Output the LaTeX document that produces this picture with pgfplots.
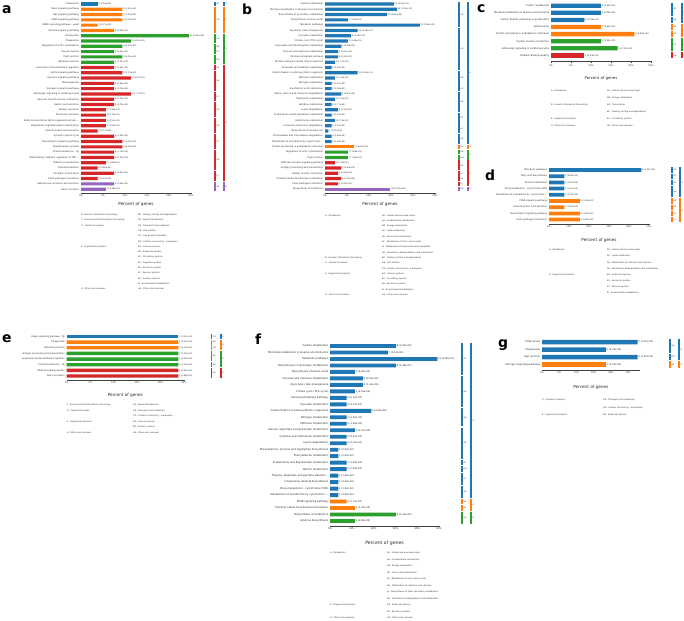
\documentclass[border=0pt]{standalone}
\usepackage{fontspec}
\setmainfont{DejaVu Sans}
\usepackage{pgfplots}
\pgfplotsset{compat=1.18}
\usetikzlibrary{calc}
\definecolor{cB}{HTML}{1F77B4}
\definecolor{cO}{HTML}{FF7F0E}
\definecolor{cG}{HTML}{2CA02C}
\definecolor{cR}{HTML}{D62728}
\definecolor{cP}{HTML}{9467BD}

\newcommand\fLab{\fontsize{2.3}{2.6}\selectfont}
\newcommand\fVal{\fontsize{2.1}{2.4}\selectfont}
\newcommand\fTick{\fontsize{2.3}{2.6}\selectfont}
\newcommand\fXl{\fontsize{4.2}{5}\selectfont}
\newcommand\fLeg{\fontsize{2.1}{2.5}\selectfont}
\newcommand\fStr{\fontsize{2}{2.3}\selectfont}
\newcommand\etc{\ldots}

\pgfplotsset{
  kegg/.style={
    xbar, scale only axis, clip=false, anchor=north west,
    xmin=0, enlargelimits=false,
    axis x line*=bottom, axis y line*=left,
    x axis line style={-, black!75, line width=0.3pt},
    y axis line style={draw=none},
    ytick style={draw=none},
    xtick style={black!75, line width=0.3pt},
    tick align=outside, major tick length=1.2bp,
    yticklabel style={font=\fLab, inner sep=0.5bp, text=black!85},
    xticklabel style={font=\fTick, inner sep=0.6bp, text=black!85},
    xticklabel={\pgfmathprintnumber{\tick}\%},
    /pgf/number format/assume math mode=true,
    xlabel={Percent of genes},
    xlabel style={font=\fXl, inner sep=0.5bp, text=black!85, yshift=-4bp},
    every axis plot/.append style={draw=none, bar width=0.6, bar shift=0pt},
    nodes near coords, point meta=explicit symbolic,
    nodes near coords align=horizontal,
    nodes near coords style={font=\fVal, anchor=west, inner sep=0.6bp, text=black!85},
  },
}
\tikzset{stl/.style={font=\fStr, anchor=west, inner sep=0.5bp, text=black!80}}

% category strips right of the bars, two levels
\newcommand\stripA[4]{\fill[#1] (axis cs:\xa,#2) rectangle (axis cs:\xb,#3);
  \node[stl] at ($(axis cs:\xb,#2)!0.5!(axis cs:\xb,#3)$) {#4};}
\newcommand\stripB[4]{\fill[#1] (axis cs:\xc,#2) rectangle (axis cs:\xd,#3);
  \node[stl] at ($(axis cs:\xd,#2)!0.5!(axis cs:\xd,#3)$) {#4};}
% legend lines below each panel
\newcommand\lgd[3]{\node[anchor=west, font=\fLeg, inner sep=0pt, text=black!85] at (#1bp,-#2bp) {#3};}
\newcommand\plab[3]{\node[anchor=base west, font=\bfseries\fontsize{14}{14}\selectfont, inner sep=0pt] at (#1bp,-#2bp) {#3};}

\begin{document}
\begin{tikzpicture}
\useasboundingbox (0,0) rectangle (684bp,-621bp);

%% ---------------- a
\def\xa{30.23}\def\xb{30.68}\def\xc{32.27}\def\xd{32.73}
\begin{axis}[kegg, at={(81bp,-0.03bp)}, width=110bp, height=193.1bp,
  xmax=25, xtick={0,5,...,25}, ymin=-36.75, ymax=-0.25, ytick={-1,-2,...,-36},
  yticklabels={Proteasome, Rap1 signaling pathway, Ras signaling pathway, cAMP signaling pathway,
    MAPK signaling pathway - yeast, Calcium signaling pathway, Endocytosis, Phagosome,
    Regulation of actin cytoskeleton, Oocyte meiosis, Tight junction, Adherens junction,
    Leukocyte transendothelial migration, GnRH signaling pathway, Oxytocin signaling pathway,
    Melanogenesis, Glucagon signaling pathway, Adrenergic signaling in cardiomyocytes,
    Vascular smooth muscle contraction, Gastric acid secretion, Salivary secretion,
    Pancreatic secretion, {Endocrine and other factor-regulated calcium \etc},
    Vasopressin-regulated water reabsorption, Collecting duct acid secretion,
    Synaptic vesicle cycle, Neurotrophin signaling pathway, Dopaminergic synapse,
    Phototransduction - fly, {Inflammatory mediator regulation of TRP \etc},
    Olfactory transduction, Phototransduction, Circadian entrainment,
    Plant-pathogen interaction, Aldosterone synthesis and secretion, Renin secretion}]
\addplot[fill=cB] coordinates {(3.77,-1) [2 (1.94e-02)]};
\addplot[fill=cO] coordinates {(9.43,-2) [5 (3.63e-03)] (9.43,-3) [5 (1.29e-02)] (9.43,-4) [5 (3.59e-03)]
  (3.77,-5) [2 (3.37e-02)] (7.55,-6) [4 (4.48e-02)]};
\addplot[fill=cG] coordinates {(24.53,-7) [13 (3.40e-08)] (11.32,-8) [6 (4.83e-04)] (9.43,-9) [5 (3.43e-03)]
  (7.55,-10) [4 (4.35e-03)] (9.43,-11) [5 (4.45e-03)] (7.55,-12) [4 (3.35e-03)]};
\addplot[fill=cR] coordinates {(7.55,-13) [4 (3.38e-02)] (9.43,-14) [5 (2.78e-03)] (11.32,-15) [6 (4.37e-03)]
  (7.55,-16) [4 (2.94e-02)] (7.55,-17) [4 (3.78e-02)] (11.32,-18) [6 (1.77e-03)] (7.55,-19) [4 (2.30e-02)]
  (7.55,-20) [4 (4.78e-02)] (5.66,-21) [3 (3.54e-02)] (5.66,-22) [3 (3.75e-02)] (5.66,-23) [3 (4.51e-02)]
  (5.66,-24) [3 (3.05e-02)] (3.77,-25) [2 (3.13e-02)] (7.55,-26) [4 (3.32e-02)] (9.43,-27) [5 (5.79e-03)]
  (9.43,-28) [5 (8.63e-03)] (7.55,-29) [4 (1.70e-02)] (7.55,-30) [4 (3.35e-02)] (5.66,-31) [3 (1.94e-02)]
  (3.77,-32) [2 (3.88e-02)] (7.55,-33) [4 (3.41e-02)] (3.77,-34) [2 (4.25e-02)]};
\addplot[fill=cP] coordinates {(7.55,-35) [4 (2.54e-02)] (5.66,-36) [3 (3.28e-02)]};
\stripA{cB}{-0.58}{-1.42}{BC} \stripA{cO}{-1.58}{-6.42}{CB} \stripA{cG}{-6.58}{-8.42}{DA}
\stripA{cG}{-8.58}{-9.42}{DB} \stripA{cG}{-9.58}{-10.42}{DC} \stripA{cG}{-10.58}{-12.42}{DD}
\stripA{cR}{-12.58}{-13.42}{EA} \stripA{cR}{-13.58}{-17.42}{EB} \stripA{cR}{-17.58}{-19.42}{EC}
\stripA{cR}{-19.58}{-22.42}{ED} \stripA{cR}{-22.58}{-25.42}{EE} \stripA{cR}{-25.58}{-28.42}{EF}
\stripA{cR}{-28.58}{-32.42}{EG} \stripA{cR}{-32.58}{-34.42}{EI} \stripA{cP}{-34.58}{-36.42}{HA}
\stripB{cB}{-0.58}{-1.42}{B} \stripB{cO}{-1.58}{-6.42}{C} \stripB{cG}{-6.58}{-12.42}{D}
\stripB{cR}{-12.58}{-34.42}{E} \stripB{cP}{-34.58}{-36.42}{H}
\end{axis}
\plab{2}{13}{a}
\lgd{81}{215}{B : Genetic Information Processing}
\lgd{81}{220.3}{C : Environmental Information Processing}
\lgd{81}{225.6}{D : Cellular Processes}
\lgd{81}{246.8}{E : Organismal Systems}
\lgd{81}{289.2}{H : Other and unknown}
\lgd{138}{215}{BC : Folding, sorting and degradation}
\lgd{138}{220.3}{CB : Signal transduction}
\lgd{138}{225.6}{DA : Transport and catabolism}
\lgd{138}{230.9}{DB : Cell motility}
\lgd{138}{236.2}{DC : Cell growth and death}
\lgd{138}{241.5}{DD : Cellular community - eukaryotes}
\lgd{138}{246.8}{EA : Immune system}
\lgd{138}{252.1}{EB : Endocrine system}
\lgd{138}{257.4}{EC : Circulatory system}
\lgd{138}{262.7}{ED : Digestive system}
\lgd{138}{268}{EE : Excretory system}
\lgd{138}{273.3}{EF : Nervous system}
\lgd{138}{278.6}{EG : Sensory system}
\lgd{138}{283.9}{EI : Environmental adaptation}
\lgd{138}{289.2}{HA : Other and unknown}

%% ---------------- b
\def\xa{36.27}\def\xb{36.82}\def\xc{38.73}\def\xd{39.27}
\begin{axis}[kegg, at={(325bp,-0.03bp)}, width=110bp, height=193.1bp,
  xmax=30, xtick={0,6,...,30}, ymin=-36.75, ymax=-0.25, ytick={-1,-2,...,-36},
  yticklabels={Carbon metabolism, Microbial metabolism in diverse environments,
    Biosynthesis of secondary metabolites, Biosynthesis of amino acids, Metabolic pathways,
    Glycolysis / Gluconeogenesis, Pyruvate metabolism, Citrate cycle (TCA cycle),
    Glyoxylate and dicarboxylate metabolism, Fructose and mannose metabolism,
    Pentose phosphate pathway, Pentose and glucuronate interconversions,
    Ascorbate and aldarate metabolism, Carbon fixation in photosynthetic organisms,
    Methane metabolism, Nitrogen metabolism, Arachidonic acid metabolism,
    {Valine, leucine and isoleucine degradation}, Tryptophan metabolism, Histidine metabolism,
    Lysine degradation, D-Glutamine and D-glutamate metabolism, Glutathione metabolism,
    Limonene and pinene degradation, Biosynthesis of ansamycins,
    Chloroalkane and chloroalkene degradation, {Metabolism of xenobiotics by cytochrome \etc},
    Protein processing in endoplasmic reticulum, Regulation of actin cytoskeleton,
    Tight junction, NOD-like receptor signaling pathway, Antigen processing and presentation,
    Cardiac muscle contraction, Proximal tubule bicarbonate reclamation,
    Plant-pathogen interaction, Biosynthesis of antibiotics}]
\addplot[fill=cB] coordinates {(18.75,-1) [21 (9.55e-14)] (19.64,-2) [22 (1.59e-12)] (16.96,-3) [19 (8.61e-05)]
  (6.25,-4) [7 (2.94e-03)] (25.89,-5) [29 (3.94e-03)] (8.93,-6) [10 (6.28e-07)] (7.14,-7) [8 (2.93e-05)]
  (6.25,-8) [7 (4.45e-05)] (4.46,-9) [5 (3.88e-03)] (3.57,-10) [4 (2.55e-03)] (3.57,-11) [4 (2.47e-03)]
  (2.68,-12) [3 (1.27e-02)] (1.79,-13) [2 (3.03e-02)] (8.93,-14) [10 (6.29e-11)] (2.68,-15) [3 (1.36e-02)]
  (1.79,-16) [2 (3.61e-02)] (1.79,-17) [2 (3.00e-02)] (4.46,-18) [5 (4.61e-03)] (2.68,-19) [3 (1.23e-02)]
  (1.79,-20) [2 (1.77e-02)] (3.57,-21) [4 (1.55e-02)] (1.79,-22) [2 (1.92e-02)] (2.68,-23) [3 (2.72e-02)]
  (1.79,-24) [2 (1.97e-02)] (0.89,-25) [1 (2.13e-02)] (1.79,-26) [2 (3.66e-02)] (1.79,-27) [2 (3.98e-02)]};
\addplot[fill=cO] coordinates {(8.04,-28) [9 (8.14e-03)]};
\addplot[fill=cG] coordinates {(6.25,-29) [7 (3.08e-02)] (6.25,-30) [7 (1.45e-02)]};
\addplot[fill=cR] coordinates {(2.68,-31) [3 (2.33e-02)] (4.46,-32) [5 (3.58e-03)] (3.57,-33) [4 (1.59e-02)]
  (4.46,-34) [5 (1.50e-04)] (3.57,-35) [4 (4.23e-02)]};
\addplot[fill=cP] coordinates {(17.86,-36) [20 (2.00e-08)]};
\stripA{cB}{-0.58}{-5.42}{A0} \stripA{cB}{-5.58}{-13.42}{AA} \stripA{cB}{-13.58}{-16.42}{AB}
\stripA{cB}{-16.58}{-17.42}{AC} \stripA{cB}{-17.58}{-21.42}{AE} \stripA{cB}{-21.58}{-23.42}{AF}
\stripA{cB}{-23.58}{-25.42}{AI} \stripA{cB}{-25.58}{-27.42}{AK} \stripA{cO}{-27.58}{-28.42}{BC}
\stripA{cG}{-28.58}{-29.42}{DB} \stripA{cG}{-29.58}{-30.42}{DD} \stripA{cR}{-30.58}{-32.42}{EA}
\stripA{cR}{-32.58}{-33.42}{EC} \stripA{cR}{-33.58}{-34.42}{EE} \stripA{cR}{-34.58}{-35.42}{EI}
\stripA{cP}{-35.58}{-36.42}{HA}
\stripB{cB}{-0.58}{-27.42}{A} \stripB{cO}{-27.58}{-28.42}{B} \stripB{cG}{-28.58}{-30.42}{D}
\stripB{cR}{-30.58}{-35.42}{E} \stripB{cP}{-35.58}{-36.42}{H}
\end{axis}
\plab{242}{14}{b}
\lgd{325}{215.5}{A : Metabolism}
\lgd{325}{257.9}{B : Genetic Information Processing}
\lgd{325}{263.2}{D : Cellular Processes}
\lgd{325}{273.8}{E : Organismal Systems}
\lgd{325}{295}{H : Other and unknown}
\lgd{382}{215.5}{A0 : Global and overview maps}
\lgd{382}{220.8}{AA : Carbohydrate metabolism}
\lgd{382}{226.1}{AB : Energy metabolism}
\lgd{382}{231.4}{AC : Lipid metabolism}
\lgd{382}{236.7}{AE : Amino acid metabolism}
\lgd{382}{242}{AF : Metabolism of other amino acids}
\lgd{382}{247.3}{AI : Metabolism of terpenoids and polyketides}
\lgd{382}{252.6}{AK : Xenobiotics biodegradation and metabolism}
\lgd{382}{257.9}{BC : Folding, sorting and degradation}
\lgd{382}{263.2}{DB : Cell motility}
\lgd{382}{268.5}{DD : Cellular community - eukaryotes}
\lgd{382}{273.8}{EA : Immune system}
\lgd{382}{279.1}{EC : Circulatory system}
\lgd{382}{284.4}{EE : Excretory system}
\lgd{382}{289.7}{EI : Environmental adaptation}
\lgd{382}{295}{HA : Other and unknown}

%% ---------------- c
\def\xa{30.0}\def\xb{30.5}\def\xc{32.5}\def\xd{33.0}
\begin{axis}[kegg, at={(551bp,-0.38bp)}, width=100bp, height=61.1bp,
  xmax=25, xtick={0,5,...,25}, ymin=-8.85, ymax=-0.25, ytick={-1,-2,...,-8},
  yticklabel style={font=\fontsize{2.4}{2.8}\selectfont},
  nodes near coords style={font=\fontsize{2.2}{2.6}\selectfont},
  xticklabel style={yshift=-1.5bp},
  xlabel style={font=\fontsize{3.9}{4.5}\selectfont, yshift=-4.5bp},
  yticklabels={Carbon metabolism, Microbial metabolism in diverse environments,
    Carbon fixation pathways in prokaryotes, Spliceosome,
    Protein processing in endoplasmic reticulum, Cardiac muscle contraction,
    Adrenergic signaling in cardiomyocytes, Dilated cardiomyopathy}]
\addplot[fill=cB] coordinates {(12.5,-1) [3 (2.20e-03)] (12.5,-2) [3 (4.08e-03)] (8.33,-3) [2 (1.39e-03)]};
\addplot[fill=cO] coordinates {(12.5,-4) [3 (3.65e-03)] (20.83,-5) [5 (6.82e-06)]};
\addplot[fill=cG] coordinates {(12.5,-6) [3 (1.20e-03)] (16.67,-7) [4 (2.13e-03)]};
\addplot[fill=cR] coordinates {(8.33,-8) [2 (2.18e-03)]};
\stripA{cB}{-0.58}{-2.42}{A0} \stripA{cB}{-2.58}{-3.42}{AB} \stripA{cO}{-3.58}{-4.42}{BA}
\stripA{cO}{-4.58}{-5.42}{BC} \stripA{cG}{-5.58}{-7.42}{EC} \stripA{cR}{-7.58}{-8.42}{HA}
\stripB{cB}{-0.58}{-3.42}{A} \stripB{cO}{-3.58}{-5.42}{B} \stripB{cG}{-5.58}{-7.42}{E} \stripB{cR}{-7.58}{-8.42}{H}
\end{axis}
\plab{477}{12}{c}
\lgd{551}{90.7}{A : Metabolism}
\lgd{551}{104.9}{B : Genetic Information Processing}
\lgd{551}{119.1}{E : Organismal Systems}
\lgd{551}{126.2}{H : Other and unknown}
\lgd{607}{90.7}{A0 : Global and overview maps}
\lgd{607}{97.8}{AB : Energy metabolism}
\lgd{607}{104.9}{BA : Transcription}
\lgd{607}{112}{BC : Folding, sorting and degradation}
\lgd{607}{119.1}{EC : Circulatory system}
\lgd{607}{126.2}{HA : Other and unknown}

%% ---------------- d
\def\xa{61}\def\xb{62}\def\xc{65}\def\xd{66}
\begin{axis}[kegg, at={(549bp,-165.35bp)}, width=100bp, height=58.9bp,
  xmax=50, xtick={0,10,...,50}, ymin=-9.75, ymax=-0.25, ytick={-1,-2,...,-9},
  xlabel style={yshift=-5bp},
  yticklabels={Metabolic pathways, Fatty acid biosynthesis, Retinol metabolism,
    Drug metabolism - cytochrome P450, {Metabolism of xenobiotics by cytochrome \etc},
    PPAR signaling pathway, Collecting duct acid secretion, Neurotrophin signaling pathway,
    Plant-pathogen interaction}]
\addplot[fill=cB] coordinates {(46.15,-1) [6 (1.23e-02)] (7.69,-2) [1 (8.66e-03)] (7.69,-3) [1 (3.02e-02)]
  (7.69,-4) [1 (3.55e-02)] (7.69,-5) [1 (2.76e-02)]};
\addplot[fill=cO] coordinates {(15.38,-6) [2 (3.43e-03)] (7.69,-7) [1 (3.00e-02)] (15.38,-8) [2 (3.04e-02)]
  (15.38,-9) [2 (2.09e-02)]};
\stripA{cB}{-0.58}{-1.42}{A0} \stripA{cB}{-1.58}{-2.42}{AC} \stripA{cB}{-2.58}{-3.42}{AH}
\stripA{cB}{-3.58}{-5.42}{AK} \stripA{cO}{-5.58}{-6.42}{EB} \stripA{cO}{-6.58}{-7.42}{EE}
\stripA{cO}{-7.58}{-8.42}{EF} \stripA{cO}{-8.58}{-9.42}{EI}
\stripB{cB}{-0.58}{-5.42}{A} \stripB{cO}{-5.58}{-9.42}{E}
\end{axis}
\plab{485}{180}{d}
\lgd{549}{250}{A : Metabolism}
\lgd{549}{274.8}{E : Organismal Systems}
\lgd{607}{250}{A0 : Global and overview maps}
\lgd{607}{256.2}{AC : Lipid metabolism}
\lgd{607}{262.4}{AH : Metabolism of cofactors and vitamins}
\lgd{607}{268.6}{AK : Xenobiotics biodegradation and metabolism}
\lgd{607}{274.8}{EB : Endocrine system}
\lgd{607}{281}{EE : Excretory system}
\lgd{607}{287.2}{EF : Nervous system}
\lgd{607}{293.4}{EI : Environmental adaptation}

%% ---------------- e
\def\xa{42.96}\def\xb{43.44}\def\xc{45.73}\def\xd{46.24}
\begin{axis}[kegg, at={(66.7bp,-332.26bp)}, width=117.3bp, height=48bp,
  xmax=35, xtick={0,7,...,35}, ymin=-8.75, ymax=-0.25, ytick={-1,-2,...,-8},
  xlabel style={yshift=-4.5bp},
  yticklabels={Hippo signaling pathway - fly, Phagosome, Adherens junction,
    Antigen processing and presentation, Leukocyte transendothelial migration,
    Phototransduction - fly, Dilated cardiomyopathy, Renin secretion}]
\addplot[fill=cB] coordinates {(33.33,-1) [1 (3.51e-02)]};
\addplot[fill=cO] coordinates {(33.33,-2) [1 (4.51e-02)] (33.33,-3) [1 (4.70e-02)]};
\addplot[fill=cG] coordinates {(33.33,-4) [1 (2.50e-02)] (33.33,-5) [1 (4.20e-02)] (33.33,-6) [1 (2.50e-02)]};
\addplot[fill=cR] coordinates {(33.33,-7) [1 (2.85e-02)] (33.33,-8) [1 (3.88e-02)]};
\stripA{cB}{-0.58}{-1.42}{CB} \stripA{cO}{-1.58}{-2.42}{DA} \stripA{cO}{-2.58}{-3.42}{DD}
\stripA{cG}{-3.58}{-5.42}{EA} \stripA{cG}{-5.58}{-6.42}{EG} \stripA{cR}{-6.58}{-8.42}{HA}
\stripB{cB}{-0.58}{-1.42}{C} \stripB{cO}{-1.58}{-3.42}{D} \stripB{cG}{-3.58}{-6.42}{E} \stripB{cR}{-6.58}{-8.42}{H}
\end{axis}
\plab{2}{342}{e}
\lgd{66.7}{405}{C : Environmental Information Processing}
\lgd{66.7}{410.7}{D : Cellular Processes}
\lgd{66.7}{421.7}{E : Organismal Systems}
\lgd{66.7}{433.2}{H : Other and unknown}
\lgd{133}{405}{CB : Signal transduction}
\lgd{133}{410.7}{DA : Transport and catabolism}
\lgd{133}{416.2}{DD : Cellular community - eukaryotes}
\lgd{133}{421.7}{EA : Immune system}
\lgd{133}{427.4}{EG : Sensory system}
\lgd{133}{433.2}{HA : Other and unknown}

%% ---------------- f
\def\xa{72.1}\def\xb{73.2}\def\xc{77.06}\def\xd{78.16}
\begin{axis}[kegg, at={(330bp,-341.14bp)}, width=109bp, height=184.7bp,
  xmax=60, xtick={0,12,...,60}, ymin=-28.75, ymax=-0.25, ytick={-1,-2,...,-28},
  yticklabel style={font=\fontsize{2.6}{3}\selectfont},
  nodes near coords style={font=\fontsize{2.4}{2.8}\selectfont},
  xticklabel style={font=\fontsize{2.5}{2.8}\selectfont},
  xlabel style={font=\fontsize{4.6}{5.2}\selectfont, yshift=-5.5bp},
  yticklabels={Carbon metabolism, Microbial metabolism in diverse environments, Metabolic pathways,
    Biosynthesis of secondary metabolites, Biosynthesis of amino acids,
    Fructose and mannose metabolism, Glycolysis / Gluconeogenesis, Citrate cycle (TCA cycle),
    Pentose phosphate pathway, Pyruvate metabolism, Carbon fixation in photosynthetic organisms,
    Nitrogen metabolism, Methane metabolism, {Alanine, aspartate and glutamate metabolism},
    Cysteine and methionine metabolism, Lysine degradation,
    {Phenylalanine, tyrosine and tryptophan biosynthesis}, Phenylalanine metabolism,
    D-Glutamine and D-glutamate metabolism, Retinol metabolism,
    {Tropane, piperidine and pyridine alkaloid \etc}, Isoquinoline alkaloid biosynthesis,
    Drug metabolism - cytochrome P450, {Metabolism of xenobiotics by cytochrome \etc},
    PPAR signaling pathway, Proximal tubule bicarbonate reclamation,
    Biosynthesis of antibiotics, Arginine biosynthesis}]
\addplot[fill=cB] coordinates {(36.36,-1) [8 (2.50e-08)] (31.82,-2) [7 (3.63e-06)] (59.09,-3) [13 (2.86e-03)]
  (36.36,-4) [8 (4.48e-05)] (13.64,-5) [3 (4.85e-03)] (18.18,-6) [4 (8.20e-06)] (18.18,-7) [4 (1.41e-04)]
  (13.64,-8) [3 (9.93e-04)] (9.09,-9) [2 (6.12e-03)] (9.09,-10) [2 (2.79e-02)] (22.73,-11) [5 (8.26e-08)]
  (9.09,-12) [2 (2.09e-03)] (9.09,-13) [2 (1.56e-02)] (13.64,-14) [3 (1.75e-03)] (9.09,-15) [2 (8.47e-03)]
  (9.09,-16) [2 (2.76e-02)] (4.55,-17) [1 (2.03e-02)] (4.55,-18) [1 (2.52e-02)] (9.09,-19) [2 (1.44e-04)]
  (9.09,-20) [2 (1.08e-03)] (4.55,-21) [1 (1.42e-02)] (4.55,-22) [1 (4.22e-02)] (4.55,-23) [1 (3.52e-02)]
  (4.55,-24) [1 (4.09e-02)]};
\addplot[fill=cO] coordinates {(9.09,-25) [2 (1.13e-02)] (13.64,-26) [3 (1.53e-04)]};
\addplot[fill=cG] coordinates {(36.36,-27) [8 (1.56e-06)] (13.64,-28) [3 (4.86e-05)]};
\stripA{cB}{-0.58}{-5.42}{A0} \stripA{cB}{-5.58}{-10.42}{AA} \stripA{cB}{-10.58}{-13.42}{AB}
\stripA{cB}{-13.58}{-18.42}{AE} \stripA{cB}{-18.58}{-19.42}{AF} \stripA{cB}{-19.58}{-20.42}{AH}
\stripA{cB}{-20.58}{-22.42}{AJ} \stripA{cB}{-22.58}{-24.42}{AK} \stripA{cO}{-24.58}{-25.42}{EB}
\stripA{cO}{-25.58}{-26.42}{EE} \stripA{cG}{-26.58}{-28.42}{HA}
\stripB{cB}{-0.58}{-24.42}{A} \stripB{cO}{-24.58}{-26.42}{E} \stripB{cG}{-26.58}{-28.42}{H}
\end{axis}
\plab{255}{344}{f}
\lgd{330}{553}{A : Metabolism}
\lgd{330}{605}{E : Organismal Systems}
\lgd{330}{618}{H : Other and unknown}
\lgd{387}{553}{A0 : Global and overview maps}
\lgd{387}{559.5}{AA : Carbohydrate metabolism}
\lgd{387}{566}{AB : Energy metabolism}
\lgd{387}{572.5}{AE : Amino acid metabolism}
\lgd{387}{579}{AF : Metabolism of other amino acids}
\lgd{387}{585.5}{AH : Metabolism of cofactors and vitamins}
\lgd{387}{592}{AJ : Biosynthesis of other secondary metabolites}
\lgd{387}{598.5}{AK : Xenobiotics biodegradation and metabolism}
\lgd{387}{605}{EB : Endocrine system}
\lgd{387}{611.5}{EE : Excretory system}
\lgd{387}{618}{HA : Other and unknown}

%% ---------------- g
\def\xa{44.25}\def\xb{44.95}\def\xc{47.39}\def\xd{48.08}
\begin{axis}[kegg, at={(542bp,-336.4bp)}, width=97.6bp, height=33.75bp,
  xmax=34, xtick={0,6,...,30}, ymin=-4.75, ymax=-0.25, ytick={-1,-2,...,-4},
  yticklabel style={font=\fontsize{2.5}{2.9}\selectfont},
  nodes near coords style={font=\fontsize{2.4}{2.8}\selectfont},
  xlabel style={yshift=-6bp},
  yticklabels={Endocytosis, Phagosome, Gap junction, Estrogen signaling pathway}]
\addplot[fill=cB] coordinates {(33.33,-1) [3 (1.20e-03)] (22.22,-2) [2 (2.43e-02)] (33.33,-3) [3 (1.50e-03)]};
\addplot[fill=cO] coordinates {(22.22,-4) [2 (2.43e-02)]};
\stripA{cB}{-0.58}{-2.42}{DA} \stripA{cB}{-2.58}{-3.42}{DD} \stripA{cO}{-3.58}{-4.42}{EB}
\stripB{cB}{-0.58}{-3.42}{D} \stripB{cO}{-3.58}{-4.42}{E}
\end{axis}
\plab{498}{347}{g}
\lgd{542}{400}{D : Cellular Processes}
\lgd{542}{415}{E : Organismal Systems}
\lgd{603}{400}{DA : Transport and catabolism}
\lgd{603}{407.5}{DD : Cellular community - eukaryotes}
\lgd{603}{415}{EB : Endocrine system}
\end{tikzpicture}
\end{document}
